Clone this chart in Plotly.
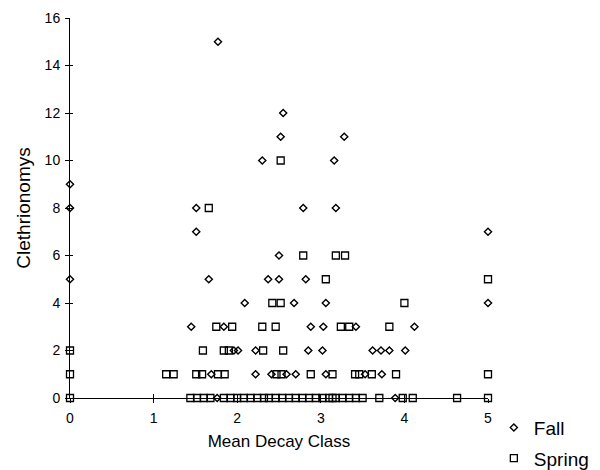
import plotly.graph_objects as go

# Fall (diamonds)
fall_x = [0, 0, 0, 1.77, 2.55, 2.52, 3.28, 2.30, 3.16, 1.51, 2.79, 3.18, 1.51, 5.0,
          2.50, 1.66, 2.37, 2.50, 2.82, 2.09, 2.68, 3.06, 5.0,
          1.45, 1.84, 2.88, 3.03, 3.42, 4.12,
          1.96, 2.01, 2.22, 2.85, 3.02, 3.62, 3.72, 3.82, 4.01,
          1.69, 2.22, 2.41, 2.59, 2.70, 3.06, 3.53, 3.73,
          1.76, 3.89]
fall_y = [9, 8, 5, 15, 12, 11, 11, 10, 10, 8, 8, 8, 7, 7,
          6, 5, 5, 5, 5, 4, 4, 4, 4,
          3, 3, 3, 3, 3, 3,
          2, 2, 2, 2, 2, 2, 2, 2, 2,
          1, 1, 1, 1, 1, 1, 1, 1,
          0, 0]

# Spring (squares)
spring_x = [0, 0, 0, 2.52, 1.66, 2.79, 3.18, 3.29, 3.06, 5.0,
            2.42, 2.52, 4.00,
            1.75, 1.94, 2.30, 2.46, 3.24, 3.34, 3.82,
            1.59, 1.84, 1.90, 2.31, 2.55,
            1.15, 1.24, 1.51, 1.58, 1.77, 1.85, 2.47, 2.53, 2.88, 3.14, 3.41, 3.46, 3.61, 3.90, 5.0,
            1.44, 1.52, 1.60, 1.68, 1.84, 1.92, 2.00, 2.08, 2.16, 2.24, 2.32, 2.38,
            2.46, 2.54, 2.62, 2.70, 2.78, 2.86, 2.94, 3.02, 3.10, 3.14, 3.18, 3.26,
            3.34, 3.42, 3.50, 3.70, 3.98, 4.10, 4.63, 5.0]
spring_y = [2, 1, 0, 10, 8, 6, 6, 6, 5, 5,
            4, 4, 4,
            3, 3, 3, 3, 3, 3, 3,
            2, 2, 2, 2, 2,
            1, 1, 1, 1, 1, 1, 1, 1, 1, 1, 1, 1, 1, 1, 1,
            0, 0, 0, 0, 0, 0, 0, 0, 0, 0, 0, 0,
            0, 0, 0, 0, 0, 0, 0, 0, 0, 0, 0, 0,
            0, 0, 0, 0, 0, 0, 0, 0]

x_ticks = [0, 1, 2, 3, 4, 5]
y_ticks = [0, 2, 4, 6, 8, 10, 12, 14, 16]

FONT = "Liberation Sans, Arial, sans-serif"

fig = go.Figure()
fig.add_trace(go.Scatter(
    x=fall_x, y=fall_y, mode="markers", name="Fall", legendgroup="f",
    marker=dict(symbol="diamond-open", size=5.5, color="black", line=dict(width=1.4, color="black")),
    cliponaxis=False))
fig.add_trace(go.Scatter(
    x=spring_x, y=spring_y, mode="markers", name="Spring", legendgroup="s",
    marker=dict(symbol="square-open", size=7, color="black", line=dict(width=1.3, color="black")),
    cliponaxis=False))

# overlay axes for the inner half of the crossing tick marks
fig.add_trace(go.Scatter(x=[None], y=[None], xaxis="x2", yaxis="y2", showlegend=False, hoverinfo="skip"))

# The page body adds an 8px offset, so the margins are shifted by 8px.
fig.update_layout(
    template="none",
    width=600, height=470,
    paper_bgcolor="white", plot_bgcolor="white",
    margin=dict(l=62, r=120, t=10, b=80, autoexpand=False),
    font=dict(family=FONT, color="black"),
    showlegend=True,
    legend=dict(x=1.014, y=-0.028, xanchor="left", yanchor="top",
                font=dict(size=19, family=FONT, color="black"), tracegroupgap=3,
                bgcolor="rgba(0,0,0,0)", itemwidth=30, borderwidth=0),
    xaxis=dict(range=[0, 5], tickvals=x_ticks, ticktext=[str(v) for v in x_ticks],
               showgrid=False, zeroline=False, showline=True, linecolor="black", linewidth=1,
               ticks="outside", ticklen=4, tickcolor="black", ticklabelstandoff=3,
               tickfont=dict(size=14, color="black"), automargin=False,
               title=dict(text="Mean Decay Class", font=dict(size=17, color="black"), standoff=10)),
    yaxis=dict(range=[0, 16], tickvals=y_ticks, ticktext=[str(v) for v in y_ticks],
               showgrid=False, zeroline=False, showline=True, linecolor="black", linewidth=1,
               ticks="outside", ticklen=4, tickcolor="black", ticklabelstandoff=2,
               tickfont=dict(size=14, color="black"), automargin=False,
               title=dict(text="Clethrionomys", font=dict(size=19, color="black"), standoff=8)),
    xaxis2=dict(range=[0, 5], overlaying="x", tickvals=x_ticks[1:], showticklabels=False,
                ticks="inside", ticklen=4, tickcolor="black", showgrid=False, zeroline=False,
                showline=False, anchor="y2", side="bottom"),
    yaxis2=dict(range=[0, 16], overlaying="y", tickvals=y_ticks[1:], showticklabels=False,
                ticks="inside", ticklen=3, tickcolor="black", showgrid=False, zeroline=False,
                showline=False, anchor="x2", side="left"),
)

fig.write_html("out.html")
